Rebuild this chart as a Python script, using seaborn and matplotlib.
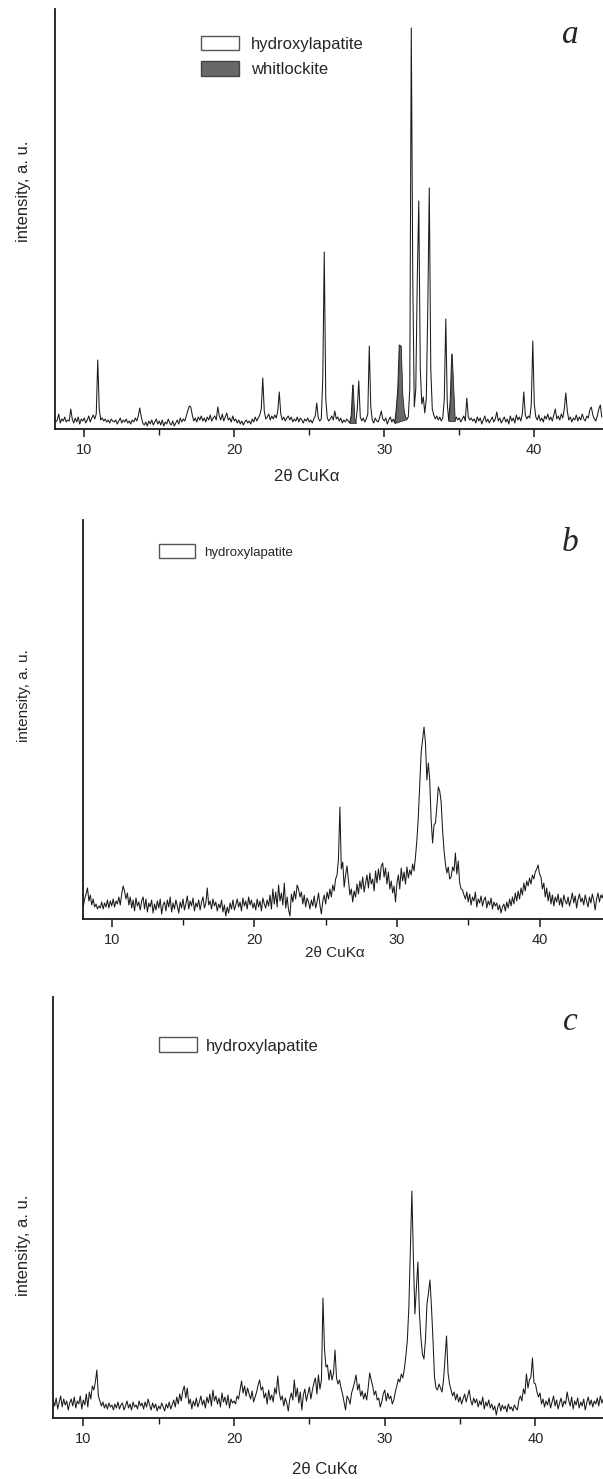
import numpy as np
import pandas as pd
import matplotlib
matplotlib.use('Agg')
import matplotlib.pyplot as plt
import seaborn as sns
from matplotlib.patches import Patch
from matplotlib.ticker import MultipleLocator

# 2theta grid, 0.1 deg step from 8.0 to 44.5
two_theta = np.round(np.arange(80, 446) / 10, 1)

# intensities (a. u.), one row per degree
intensity_a = [
    11, 7, 9, 15, 6, 10, 8, 12, 7, 9,
    8, 20, 10, 6, 11, 7, 12, 5, 10, 8,
    11, 6, 9, 13, 7, 11, 14, 10, 15, 69,
    20, 9, 11, 8, 10, 7, 9, 6, 10, 8,
    7, 9, 5, 8, 11, 6, 9, 7, 10, 6,
    8, 5, 9, 7, 11, 8, 13, 21, 12, 6,
    4, 7, 3, 8, 5, 9, 4, 7, 10, 5,
    8, 4, 9, 3, 7, 5, 10, 6, 4, 8,
    3, 6, 9, 5, 11, 7, 10, 8, 13, 18,
    23, 22, 14, 8, 11, 7, 12, 9, 13, 8,
    11, 7, 12, 9, 14, 8, 11, 13, 9, 22,
    13, 9, 15, 8, 12, 16, 9, 11, 7, 13,
    8, 10, 6, 9, 5, 8, 4, 7, 9, 6,
    8, 5, 10, 7, 12, 8, 11, 14, 20, 51,
    18, 10, 12, 15, 9, 13, 10, 14, 11, 18,
    37, 15, 9, 12, 8, 11, 13, 9, 12, 7,
    10, 8, 12, 7, 11, 9, 6, 10, 8, 11,
    7, 9, 6, 10, 13, 26, 11, 8, 10, 50,
    177, 30, 11, 8, 10, 13, 9, 18, 10, 12,
    8, 11, 6, 9, 7, 10, 8, 6, 14, 44,
    10, 6, 20, 48, 12, 8, 11, 7, 10, 15,
    83, 22, 9, 6, 11, 8, 7, 12, 18, 10,
    8, 11, 5, 9, 12, 7, 10, 6, 20, 40,
    84, 83, 35, 18, 12, 10, 12, 40, 401, 150,
    22, 40, 150, 228, 60, 25, 32, 16, 30, 120,
    241, 60, 20, 14, 10, 13, 9, 12, 8, 11,
    30, 110, 25, 8, 30, 75, 40, 8, 12, 9,
    11, 7, 10, 13, 8, 31, 12, 9, 11, 8,
    10, 6, 12, 8, 11, 5, 9, 13, 7, 10,
    6, 9, 12, 7, 10, 17, 8, 11, 6, 9,
    12, 7, 10, 5, 13, 8, 11, 6, 14, 9,
    12, 8, 15, 37, 14, 10, 13, 11, 25, 88,
    25, 12, 9, 14, 8, 11, 7, 13, 10, 15,
    9, 12, 8, 14, 20, 10, 13, 9, 15, 11,
    20, 36, 18, 9, 12, 7, 11, 9, 14, 8,
    12, 9, 15, 10, 8, 13, 11, 19, 22, 14,
    10, 8, 13, 20, 24, 12,
]

intensity_b = [
    12, 20, 25, 31, 18, 24, 14, 20, 12, 15,
    10, 13, 11, 17, 10, 16, 12, 19, 11, 18,
    13, 20, 12, 18, 15, 22, 14, 25, 33, 28,
    20, 26, 14, 22, 11, 19, 8, 21, 13, 17,
    9, 18, 22, 10, 20, 7, 16, 12, 19, 6,
    15, 9, 18, 11, 20, 5, 14, 17, 8, 19,
    12, 22, 7, 16, 10, 19, 13, 6, 17, 11,
    20, 9, 15, 23, 10, 18, 13, 21, 8, 16,
    12, 19, 9, 17, 22, 11, 16, 31, 14, 18,
    10, 20, 13, 17, 8, 15, 11, 19, 7, 14,
    3, 12, 6, 16, 10, 19, 9, 14, 20, 12,
    17, 8, 21, 13, 18, 10, 22, 14, 19, 11,
    16, 9, 20, 12, 18, 8, 21, 15, 11, 19,
    13, 24, 10, 30, 15, 27, 12, 34, 18, 26,
    14, 36, 11, 22, 9, 3, 25, 17, 28, 20,
    34, 30, 22, 27, 15, 24, 12, 21, 17, 10,
    19, 13, 23, 11, 17, 26, 14, 5, 18, 24,
    15, 27, 20, 30, 22, 34, 28, 40, 44, 60,
    112, 50, 57, 32, 44, 53, 38, 24, 30, 17,
    28, 22, 35, 25, 38, 30, 42, 27, 36, 44,
    31, 46, 35, 40, 28, 48, 36, 50, 39, 53,
    56, 42, 51, 35, 47, 30, 38, 26, 33, 17,
    36, 44, 30, 51, 38, 47, 35, 52, 41, 49,
    44, 55, 48, 62, 79, 102, 135, 167, 180, 192,
    176, 139, 156, 139, 99, 76, 94, 96, 112, 132,
    128, 117, 89, 69, 55, 46, 52, 40, 42, 52,
    48, 66, 45, 58, 36, 30, 29, 24, 20, 27,
    17, 25, 14, 22, 18, 27, 12, 20, 16, 23,
    13, 19, 22, 11, 18, 14, 21, 10, 17, 13,
    16, 9, 14, 6, 12, 15, 8, 17, 11, 20,
    13, 22, 15, 26, 18, 28, 20, 31, 24, 36,
    28, 38, 33, 41, 35, 44, 40, 47, 50, 54,
    45, 42, 30, 36, 22, 31, 18, 27, 15, 24,
    13, 22, 17, 25, 14, 21, 12, 24, 18, 15,
    22, 13, 19, 26, 16, 23, 11, 20, 25, 17,
    21, 14, 24, 18, 12, 22, 16, 25, 19, 9,
    20, 26, 17, 24, 21, 27,
]

intensity_c = [
    18, 12, 20, 9, 16, 22, 11, 19, 13, 17,
    8, 15, 19, 12, 21, 10, 17, 14, 22, 9,
    18, 13, 24, 11, 26, 19, 32, 28, 36, 48,
    22, 17, 12, 16, 10, 14, 9, 15, 11, 13,
    8, 14, 10, 16, 9, 13, 15, 8, 12, 17,
    10, 14, 8, 16, 11, 13, 9, 17, 12, 15,
    9, 16, 11, 19, 13, 8, 15, 10, 14, 7,
    12, 9, 15, 11, 7, 14, 10, 16, 9, 13,
    18, 11, 21, 14, 24, 17, 27, 32, 20, 30,
    14, 19, 9, 17, 12, 20, 11, 16, 22, 13,
    18, 10, 21, 15, 24, 12, 28, 17, 22, 14,
    20, 11, 25, 16, 21, 13, 23, 10, 19, 15,
    17, 14, 22, 19, 28, 37, 25, 32, 22, 30,
    24, 19, 27, 16, 21, 26, 33, 38, 28, 31,
    20, 25, 14, 28, 18, 23, 16, 30, 24, 42,
    26, 18, 22, 12, 20, 15, 7, 19, 25, 18,
    38, 21, 30, 15, 26, 8, 23, 29, 17, 24,
    31, 19, 28, 35, 40, 24, 43, 29, 38, 120,
    70, 51, 53, 38, 48, 38, 45, 68, 40, 34,
    38, 30, 24, 16, 8, 22, 19, 14, 25, 30,
    36, 43, 28, 34, 22, 27, 19, 25, 18, 30,
    45, 38, 32, 23, 27, 18, 20, 11, 16, 24,
    28, 17, 25, 19, 22, 14, 18, 26, 32, 39,
    36, 44, 40, 49, 62, 78, 111, 171, 227, 160,
    104, 130, 156, 105, 80, 64, 59, 78, 114, 125,
    138, 111, 78, 41, 30, 28, 34, 30, 26, 38,
    60, 82, 45, 34, 28, 22, 26, 18, 24, 16,
    21, 14, 19, 24, 16, 22, 28, 18, 13, 20,
    15, 19, 11, 17, 13, 21, 9, 16, 12, 18,
    10, 14, 8, 12, 3, 11, 15, 7, 13, 9,
    12, 6, 14, 9, 11, 7, 13, 10, 8, 18,
    22, 17, 29, 24, 44, 30, 38, 41, 60, 35,
    34, 26, 21, 25, 14, 19, 11, 17, 13, 20,
    10, 16, 22, 12, 18, 9, 15, 20, 11, 17,
    14, 26, 18, 12, 21, 9, 17, 13, 20, 10,
    16, 12, 19, 8, 15, 21, 13, 18, 11, 17,
    14, 20, 12, 22, 15, 19,
]

# whitlockite reflections shaded in pattern a (2theta start, end)
whitlockite_ranges = [(27.7, 28.1), (30.7, 31.5), (34.3, 34.7)]

tick_values = [10, 20, 30, 40]
panel_letters = ['a', 'b', 'c']
legend_labels_a = ['hydroxylapatite', 'whitlockite']
legend_labels_bc = ['hydroxylapatite']

W, H = 603, 1479

sns.set_style('ticks')
plt.rcParams['font.family'] = ['Liberation Sans', 'DejaVu Sans']

fig = plt.figure(figsize=(W / 100, H / 100), dpi=100)


def px_rect(left, top, bottom):
    return [left / W, 1 - bottom / H, (W - left) / W, (bottom - top) / H]


# layout per panel: axes rect in pixels, xlim, ylim, label spots
panels = [
    dict(y=intensity_a, rect=px_rect(54.7, 9, 429), xlim=(8.03, 44.58), ytop=420,
         xlab=(0.4596, -0.1136), ylab=(-0.056, 0.565), lab_fs=12,
         letter_xy=(570, 43), leg_xy=(200.5, 35.5), leg_fs=12,
         leg_kw=dict(handlelength=2.3, handleheight=1.0, handletextpad=0.75, labelspacing=0.55)),
    dict(y=intensity_b, rect=px_rect(83.2, 520, 919), xlim=(8.0, 44.45), ytop=399,
         xlab=(0.4844, -0.085), ylab=(-0.114, 0.561), lab_fs=11,
         letter_xy=(570, 551.5), leg_xy=(158.5, 544.5), leg_fs=9.5,
         leg_kw=dict(handlelength=2.77, handleheight=1.16, handletextpad=0.68)),
    dict(y=intensity_c, rect=px_rect(53.3, 997, 1418), xlim=(8.01, 44.48), ytop=421,
         xlab=(0.4943, -0.1235), ylab=(-0.0538, 0.411), lab_fs=12,
         letter_xy=(570, 1030), leg_xy=(158.5, 1037.5), leg_fs=12,
         leg_kw=dict(handlelength=2.3, handleheight=1.0, handletextpad=0.54)),
]

for i, p in enumerate(panels):
    ax = fig.add_axes(p['rect'])
    df = pd.DataFrame({'two_theta': two_theta, 'intensity': p['y']})
    sns.lineplot(data=df, x='two_theta', y='intensity', ax=ax, color='#1a1a1a',
                 linewidth=0.75, estimator=None)

    if i == 0:
        ys = np.asarray(p['y'], dtype=float)
        for lo, hi in whitlockite_ranges:
            m = (two_theta >= lo - 1e-9) & (two_theta <= hi + 1e-9)
            xs = two_theta[m]
            base = np.interp(xs, [xs[0], xs[-1]], [ys[m][0], ys[m][-1]])
            ax.fill_between(xs, base, ys[m], facecolor='#686868', edgecolor='#333333',
                            linewidth=0.6, zorder=3)

    ax.set_xlim(*p['xlim'])
    ax.set_ylim(0, p['ytop'])
    ax.set_xticks(tick_values)
    ax.set_xticklabels([str(t) for t in tick_values])
    ax.xaxis.set_minor_locator(MultipleLocator(5))
    ax.set_yticks([])
    ax.tick_params(axis='x', which='major', direction='out', length=6, width=1.1,
                   labelsize=10.5, pad=4, color='#1a1a1a')
    ax.tick_params(axis='x', which='minor', direction='out', length=4, width=1.0,
                   color='#1a1a1a')
    sns.despine(ax=ax)
    for s in ('left', 'bottom'):
        ax.spines[s].set_linewidth(1.3)
        ax.spines[s].set_color('#1a1a1a')

    ax.set_xlabel('2θ CuKα', fontsize=p['lab_fs'])
    ax.xaxis.label.set_va('center')
    ax.xaxis.set_label_coords(*p['xlab'])
    ax.set_ylabel('intensity, a. u.', fontsize=p['lab_fs'])
    ax.yaxis.label.set_va('center')
    ax.yaxis.set_label_coords(*p['ylab'])

    if i == 0:
        handles = [Patch(facecolor='white', edgecolor='#555555', linewidth=1.0, label=legend_labels_a[0]),
                   Patch(facecolor='#686868', edgecolor='#444444', linewidth=1.0, label=legend_labels_a[1])]
    else:
        handles = [Patch(facecolor='white', edgecolor='#555555', linewidth=1.0, label=legend_labels_bc[0])]
    lx, ly = p['leg_xy']
    ax.legend(handles=handles, loc='upper left', bbox_to_anchor=(lx / W, 1 - ly / H),
              bbox_transform=fig.transFigure, frameon=False, fontsize=p['leg_fs'],
              borderpad=0, borderaxespad=0, **p['leg_kw'])

    tx, ty = p['letter_xy']
    fig.text(tx / W, 1 - ty / H, panel_letters[i], fontsize=24, style='italic',
             family=['Liberation Serif', 'DejaVu Serif'], ha='center', va='baseline')

fig.savefig('out.png', dpi=100)
